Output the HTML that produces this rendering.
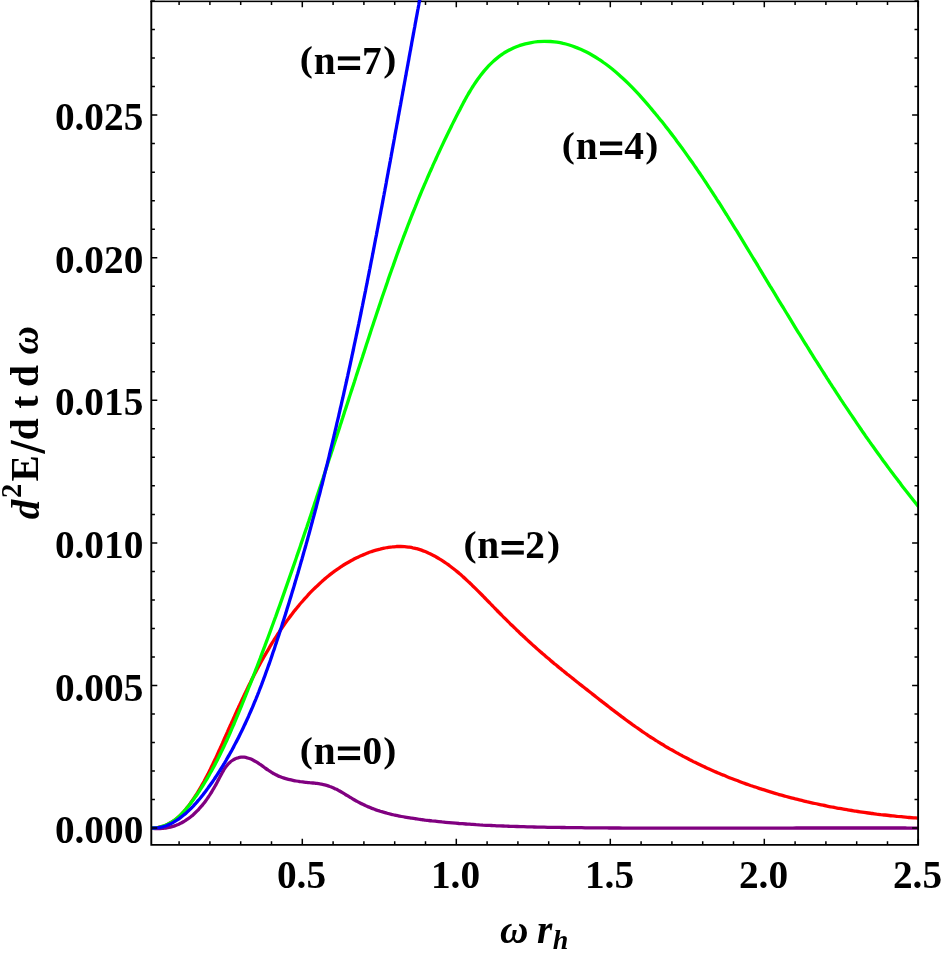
<!DOCTYPE html>
<html><head><meta charset="utf-8"><title>plot</title>
<style>
html,body{margin:0;padding:0;background:#fff;}
body{width:945px;height:953px;overflow:hidden;font-family:"Liberation Serif",serif;}
svg{display:block;position:absolute;left:0;top:0;will-change:transform;}
text{font-family:"Liberation Serif",serif;font-weight:bold;fill:#000;}
.i{font-style:italic;}
</style></head><body>
<svg width="945" height="953" viewBox="0 0 945 953">
<rect x="0" y="0" width="945" height="953" fill="#fff"/>
<defs><clipPath id="c"><rect x="151.30" y="0" width="766.40" height="844.85"/></clipPath><clipPath id="ctop"><rect x="400" y="0" width="40" height="2.6"/></clipPath></defs>
<g clip-path="url(#c)" fill="none" stroke-linejoin="round" stroke-linecap="butt" stroke-width="3.30">
<path d="M151.40 828.10C152.0 828.2 153.9 828.4 155.1 828.5C156.3 828.5 157.5 828.6 158.7 828.6C159.9 828.6 161.1 828.5 162.2 828.4C163.4 828.4 164.5 828.2 165.6 828.1C166.7 827.9 167.8 827.7 168.9 827.5C170.0 827.3 171.1 827.0 172.1 826.7C173.2 826.4 174.2 826.0 175.2 825.7C176.2 825.3 177.3 824.9 178.2 824.5C179.2 824.0 180.2 823.6 181.2 823.1C182.1 822.6 183.1 822.0 184.0 821.5C184.9 820.9 185.8 820.3 186.7 819.7C187.7 819.1 188.5 818.5 189.4 817.8C190.3 817.2 191.1 816.5 192.0 815.8C192.8 815.0 193.7 814.3 194.5 813.5C195.3 812.8 196.1 812.0 196.9 811.2C197.7 810.4 198.5 809.6 199.2 808.7C200.0 807.9 200.7 807.0 201.5 806.2C202.2 805.3 203.0 804.4 203.7 803.5C204.4 802.6 205.1 801.7 205.8 800.7C206.5 799.8 207.2 798.8 207.8 797.9C208.5 796.9 209.1 795.9 209.8 794.9C210.4 793.9 211.1 792.9 211.7 791.9C212.3 790.9 212.9 789.9 213.5 788.8C214.1 787.8 214.7 786.8 215.3 785.7C215.9 784.7 216.4 783.6 217.0 782.6C217.6 781.5 218.1 780.4 218.7 779.4C219.2 778.3 219.7 777.3 220.3 776.2C220.8 775.2 221.4 774.1 222.0 773.1C222.5 772.1 223.1 771.1 223.7 770.1C224.3 769.2 224.9 768.2 225.5 767.3C226.2 766.4 226.9 765.6 227.6 764.7C228.3 763.9 229.0 763.1 229.8 762.4C230.6 761.7 231.4 761.1 232.3 760.5C233.2 759.9 234.1 759.3 235.1 758.9C236.0 758.4 237.0 758.0 238.0 757.8C239.1 757.5 240.1 757.3 241.1 757.2C242.2 757.1 243.2 757.1 244.2 757.2C245.2 757.3 246.2 757.5 247.2 757.8C248.3 758.0 249.3 758.4 250.3 758.8C251.3 759.2 252.3 759.7 253.3 760.2C254.3 760.7 255.3 761.3 256.3 761.9C257.3 762.5 258.3 763.2 259.3 763.9C260.3 764.5 261.3 765.2 262.3 765.9C263.3 766.6 264.3 767.4 265.3 768.1C266.2 768.8 267.2 769.5 268.2 770.2C269.2 770.8 270.2 771.5 271.2 772.1C272.3 772.8 273.3 773.3 274.3 773.9C275.3 774.5 276.3 775.0 277.3 775.4C278.3 775.9 279.3 776.4 280.4 776.8C281.4 777.2 282.4 777.6 283.4 777.9C284.5 778.3 285.5 778.6 286.6 778.9C287.6 779.2 288.6 779.5 289.7 779.7C290.8 780.0 291.8 780.2 292.9 780.4C294.0 780.7 295.0 780.8 296.1 781.0C297.2 781.2 298.3 781.4 299.4 781.5C300.5 781.7 301.6 781.8 302.7 781.9C303.8 782.1 305.0 782.2 306.1 782.3C307.2 782.4 308.4 782.5 309.5 782.7C310.7 782.8 311.8 782.9 313.0 783.0C314.1 783.1 315.3 783.3 316.4 783.4C317.6 783.6 318.7 783.8 319.9 783.9C321.0 784.1 322.1 784.4 323.3 784.6C324.4 784.8 325.5 785.1 326.6 785.4C327.7 785.7 328.8 786.1 329.8 786.5C330.9 786.8 331.9 787.3 333.0 787.7C334.0 788.2 335.0 788.6 336.0 789.1C337.1 789.6 338.1 790.2 339.0 790.7C340.0 791.3 341.0 791.8 342.0 792.4C343.0 793.0 344.0 793.6 345.0 794.2C345.9 794.7 346.9 795.3 347.9 795.9C348.8 796.5 349.8 797.2 350.8 797.7C351.8 798.3 352.7 798.9 353.7 799.5C354.7 800.1 355.7 800.7 356.7 801.2C357.7 801.8 358.7 802.3 359.7 802.8C360.7 803.3 361.7 803.9 362.8 804.3C363.8 804.8 364.8 805.3 365.8 805.8C366.9 806.2 367.9 806.7 369.0 807.1C370.0 807.6 371.1 808.0 372.1 808.4C373.2 808.8 374.2 809.2 375.3 809.6C376.3 809.9 377.4 810.3 378.5 810.7C379.6 811.0 380.6 811.4 381.7 811.7C382.8 812.0 383.9 812.3 385.0 812.6C386.1 813.0 387.1 813.2 388.2 813.5C389.3 813.8 390.4 814.1 391.5 814.4C392.6 814.6 393.7 814.9 394.8 815.1C395.9 815.4 397.1 815.6 398.2 815.8C399.3 816.1 400.4 816.3 401.5 816.5C402.6 816.7 403.7 816.9 404.9 817.1C406.0 817.3 407.1 817.5 408.2 817.7C409.3 817.9 410.5 818.0 411.6 818.2C412.7 818.4 413.8 818.6 415.0 818.7C416.1 818.9 417.2 819.0 418.4 819.2C419.5 819.3 420.6 819.5 421.8 819.6C422.9 819.8 424.0 819.9 425.2 820.1C426.3 820.2 427.4 820.3 428.5 820.5C429.7 820.6 430.8 820.7 431.9 820.9C433.1 821.0 434.2 821.1 435.3 821.2C436.5 821.4 437.6 821.5 438.7 821.6C439.9 821.7 441.0 821.8 442.1 821.9C443.3 822.0 444.4 822.2 445.5 822.3C446.7 822.4 447.8 822.5 448.9 822.6C450.1 822.7 451.2 822.8 452.3 822.9C453.5 823.0 454.6 823.1 455.7 823.2C456.9 823.3 458.0 823.4 459.1 823.5C460.3 823.5 461.4 823.6 462.5 823.7C463.7 823.8 464.8 823.9 465.9 824.0C467.1 824.1 468.2 824.1 469.3 824.2C470.5 824.3 471.6 824.4 472.7 824.4C473.9 824.5 475.0 824.6 476.1 824.7C477.3 824.7 478.4 824.8 479.5 824.9C480.7 824.9 481.8 825.0 482.9 825.1C484.1 825.1 485.2 825.2 486.3 825.3C487.5 825.3 488.6 825.4 489.7 825.4C490.9 825.5 492.0 825.5 493.1 825.6C494.3 825.7 495.4 825.7 496.5 825.8C497.7 825.8 498.8 825.9 499.9 825.9C501.1 826.0 502.2 826.0 503.3 826.0C504.5 826.1 505.6 826.1 506.7 826.2C507.9 826.2 509.0 826.3 510.2 826.3C511.3 826.3 512.4 826.4 513.6 826.4C514.7 826.5 515.8 826.5 517.0 826.5C518.1 826.6 519.2 826.6 520.4 826.6C521.5 826.7 522.6 826.7 523.8 826.7C524.9 826.8 526.0 826.8 527.2 826.8C528.3 826.9 529.4 826.9 530.6 826.9C531.7 826.9 532.8 827.0 534.0 827.0C535.1 827.0 536.2 827.0 537.4 827.1C538.5 827.1 539.7 827.1 540.8 827.1C541.9 827.2 543.1 827.2 544.2 827.2C545.3 827.2 546.5 827.2 547.6 827.3C548.7 827.3 549.9 827.3 551.0 827.3C552.1 827.3 553.3 827.4 554.4 827.4C555.5 827.4 556.7 827.4 557.8 827.4C558.9 827.4 560.1 827.5 561.2 827.5C562.4 827.5 563.5 827.5 564.6 827.5C565.8 827.5 566.9 827.6 568.0 827.6C569.2 827.6 570.3 827.6 571.4 827.6C572.6 827.6 573.7 827.6 574.8 827.6C576.0 827.7 577.1 827.7 578.2 827.7C579.4 827.7 580.5 827.7 581.7 827.7C582.8 827.7 583.9 827.7 585.1 827.8C586.2 827.8 587.3 827.8 588.5 827.8C589.6 827.8 590.7 827.8 591.9 827.8C593.0 827.8 594.1 827.8 595.3 827.9C596.4 827.9 597.5 827.9 598.7 827.9C599.8 827.9 601.0 827.9 602.1 827.9C603.2 827.9 604.4 827.9 605.5 827.9C606.6 827.9 607.8 828.0 608.9 828.0C610.0 828.0 611.2 828.0 612.3 828.0C613.4 828.0 614.6 828.0 615.7 828.0C616.9 828.0 618.0 828.0 619.1 828.0C620.3 828.0 621.4 828.0 622.5 828.1C623.7 828.1 624.8 828.1 625.9 828.1C627.1 828.1 628.2 828.1 629.3 828.1C630.5 828.1 631.6 828.1 632.8 828.1C633.9 828.1 635.0 828.1 636.2 828.1C637.3 828.1 638.4 828.1 639.6 828.1C640.7 828.1 641.8 828.1 643.0 828.1C644.1 828.1 645.2 828.2 646.4 828.2C647.5 828.2 648.7 828.2 649.8 828.2C650.9 828.2 652.1 828.2 653.2 828.2C654.3 828.2 655.5 828.2 656.6 828.2C657.7 828.2 658.9 828.2 660.0 828.2C661.1 828.2 662.3 828.2 663.4 828.2C664.6 828.2 665.7 828.2 666.8 828.2C668.0 828.2 669.1 828.2 670.2 828.2C671.4 828.2 672.5 828.2 673.6 828.2C674.8 828.2 675.9 828.2 677.1 828.2C678.2 828.2 679.3 828.2 680.5 828.2C681.6 828.2 682.7 828.2 683.9 828.2C685.0 828.2 686.1 828.2 687.3 828.2C688.4 828.2 689.5 828.2 690.7 828.2C691.8 828.2 693.0 828.2 694.1 828.2C695.2 828.2 696.4 828.2 697.5 828.2C698.6 828.2 699.8 828.2 700.9 828.2C702.0 828.2 703.2 828.2 704.3 828.2C705.5 828.2 706.6 828.2 707.7 828.2C708.9 828.2 710.0 828.2 711.1 828.2C712.3 828.2 713.4 828.2 714.5 828.2C715.7 828.2 716.8 828.2 717.9 828.2C719.1 828.2 720.2 828.2 721.4 828.2C722.5 828.2 723.6 828.2 724.8 828.2C725.9 828.2 727.0 828.2 728.2 828.2C729.3 828.2 730.4 828.2 731.6 828.2C732.7 828.2 733.9 828.2 735.0 828.2C736.1 828.2 737.3 828.2 738.4 828.2C739.5 828.2 740.7 828.2 741.8 828.2C742.9 828.2 744.1 828.2 745.2 828.2C746.4 828.2 747.5 828.2 748.6 828.2C749.8 828.2 750.9 828.1 752.0 828.1C753.2 828.1 754.3 828.1 755.4 828.1C756.6 828.1 757.7 828.1 758.8 828.1C760.0 828.1 761.1 828.1 762.3 828.1C763.4 828.1 764.5 828.1 765.7 828.1C766.8 828.1 767.9 828.1 769.1 828.1C770.2 828.1 771.3 828.1 772.5 828.1C773.6 828.1 774.8 828.1 775.9 828.1C777.0 828.1 778.2 828.1 779.3 828.1C780.4 828.1 781.6 828.1 782.7 828.1C783.8 828.1 785.0 828.1 786.1 828.1C787.2 828.1 788.4 828.1 789.5 828.1C790.7 828.1 791.8 828.1 792.9 828.1C794.1 828.0 795.2 828.0 796.3 828.0C797.5 828.0 798.6 828.0 799.7 828.0C800.9 828.0 802.0 828.0 803.2 828.0C804.3 828.0 805.4 828.0 806.6 828.0C807.7 828.0 808.8 828.0 810.0 828.0C811.1 828.0 812.2 828.0 813.4 828.0C814.5 828.0 815.7 828.0 816.8 828.0C817.9 828.0 819.1 828.0 820.2 828.0C821.3 828.0 822.5 828.0 823.6 828.0C824.7 828.0 825.9 828.0 827.0 828.0C828.1 828.0 829.3 828.0 830.4 828.0C831.6 828.0 832.7 828.0 833.8 828.0C835.0 828.0 836.1 828.0 837.2 828.0C838.4 828.0 839.5 828.0 840.6 828.0C841.8 828.0 842.9 828.0 844.0 828.0C845.2 828.0 846.3 828.0 847.5 828.0C848.6 828.0 849.7 828.0 850.9 828.0C852.0 828.0 853.1 828.0 854.3 828.0C855.4 828.0 856.5 828.0 857.7 828.0C858.8 828.0 859.9 828.0 861.1 828.0C862.2 828.0 863.4 828.0 864.5 828.0C865.6 828.0 866.8 828.0 867.9 828.0C869.0 828.0 870.2 828.0 871.3 828.0C872.4 828.0 873.6 828.0 874.7 828.0C875.9 828.0 877.0 828.0 878.1 828.0C879.3 828.0 880.4 828.0 881.5 828.0C882.7 828.0 883.8 828.0 884.9 828.0C886.1 828.0 887.2 828.0 888.3 828.0C889.5 828.0 890.6 828.0 891.7 828.0C892.9 828.0 894.0 828.0 895.2 828.0C896.3 828.0 897.4 828.0 898.6 828.0C899.7 828.0 900.8 828.0 902.0 828.0C903.1 828.0 904.2 828.0 905.4 828.0C906.5 828.0 907.6 828.1 908.8 828.1C909.9 828.1 911.1 828.1 912.2 828.1C913.3 828.1 914.5 828.1 915.6 828.1C916.7 828.1 918.4 828.1 919.0 828.1" stroke="#800080"/>
<path d="M151.40 828.10C152.1 828.1 154.4 828.0 155.8 827.9C157.3 827.7 158.6 827.4 160.0 827.1C161.3 826.8 162.7 826.4 163.9 826.0C165.2 825.5 166.4 825.0 167.6 824.4C168.8 823.8 170.0 823.2 171.1 822.5C172.3 821.8 173.4 821.1 174.4 820.3C175.5 819.5 176.5 818.7 177.6 817.8C178.6 816.9 179.6 816.0 180.5 815.1C181.5 814.1 182.4 813.1 183.3 812.1C184.2 811.1 185.1 810.0 186.0 809.0C186.9 807.9 187.7 806.8 188.6 805.7C189.4 804.6 190.2 803.5 191.0 802.3C191.9 801.2 192.6 800.1 193.4 798.9C194.2 797.8 195.0 796.6 195.7 795.4C196.5 794.3 197.2 793.1 198.0 791.9C198.7 790.7 199.4 789.5 200.1 788.3C200.8 787.1 201.5 785.9 202.2 784.7C202.9 783.5 203.6 782.3 204.3 781.0C204.9 779.8 205.6 778.6 206.2 777.3C206.9 776.1 207.5 774.9 208.2 773.6C208.8 772.4 209.4 771.1 210.1 769.9C210.7 768.6 211.3 767.3 211.9 766.1C212.5 764.8 213.1 763.6 213.7 762.3C214.3 761.0 214.9 759.7 215.5 758.5C216.1 757.2 216.7 755.9 217.3 754.6C217.9 753.4 218.4 752.1 219.0 750.8C219.6 749.5 220.2 748.3 220.8 747.0C221.3 745.7 221.9 744.4 222.5 743.1C223.0 741.8 223.6 740.6 224.2 739.3C224.7 738.0 225.3 736.7 225.9 735.5C226.4 734.2 227.0 732.9 227.6 731.6C228.1 730.3 228.7 729.1 229.3 727.8C229.8 726.5 230.4 725.2 231.0 724.0C231.6 722.7 232.1 721.4 232.7 720.2C233.3 718.9 233.8 717.6 234.4 716.4C235.0 715.1 235.6 713.8 236.1 712.6C236.7 711.3 237.3 710.0 237.9 708.8C238.4 707.5 239.0 706.2 239.6 705.0C240.2 703.7 240.8 702.5 241.4 701.2C241.9 700.0 242.5 698.7 243.1 697.5C243.7 696.2 244.3 695.0 244.9 693.7C245.5 692.5 246.1 691.2 246.7 690.0C247.3 688.7 247.9 687.5 248.5 686.2C249.1 685.0 249.7 683.8 250.4 682.5C251.0 681.3 251.6 680.1 252.2 678.8C252.8 677.6 253.5 676.4 254.1 675.1C254.7 673.9 255.4 672.7 256.0 671.5C256.6 670.2 257.3 669.0 257.9 667.8C258.6 666.6 259.2 665.4 259.9 664.2C260.6 663.0 261.2 661.7 261.9 660.5C262.6 659.3 263.2 658.1 263.9 656.9C264.6 655.7 265.3 654.5 266.0 653.3C266.7 652.1 267.4 651.0 268.1 649.8C268.8 648.6 269.5 647.4 270.2 646.2C270.9 645.0 271.6 643.8 272.3 642.7C273.1 641.5 273.8 640.3 274.5 639.2C275.3 638.0 276.0 636.8 276.8 635.7C277.5 634.5 278.3 633.3 279.1 632.2C279.8 631.0 280.6 629.9 281.4 628.7C282.2 627.6 283.0 626.4 283.8 625.3C284.6 624.1 285.4 623.0 286.2 621.9C287.0 620.7 287.8 619.6 288.7 618.5C289.5 617.4 290.3 616.2 291.2 615.1C292.0 614.0 292.9 612.9 293.7 611.8C294.6 610.7 295.5 609.6 296.4 608.5C297.2 607.4 298.1 606.3 299.0 605.3C299.9 604.2 300.8 603.1 301.8 602.0C302.7 601.0 303.6 599.9 304.5 598.9C305.5 597.8 306.4 596.8 307.4 595.8C308.3 594.7 309.3 593.7 310.2 592.7C311.2 591.7 312.2 590.7 313.2 589.7C314.2 588.7 315.2 587.7 316.2 586.8C317.2 585.8 318.2 584.8 319.2 583.9C320.3 582.9 321.3 582.0 322.3 581.1C323.4 580.2 324.4 579.3 325.5 578.4C326.6 577.5 327.6 576.6 328.7 575.7C329.8 574.8 330.9 574.0 332.0 573.1C333.1 572.3 334.2 571.5 335.3 570.7C336.4 569.8 337.6 569.0 338.7 568.3C339.9 567.5 341.0 566.7 342.2 566.0C343.3 565.2 344.5 564.5 345.7 563.8C346.9 563.1 348.1 562.4 349.3 561.7C350.5 561.0 351.7 560.3 352.9 559.7C354.1 559.0 355.4 558.4 356.6 557.8C357.9 557.2 359.1 556.6 360.4 556.0C361.6 555.5 362.9 554.9 364.2 554.4C365.5 553.8 366.8 553.3 368.1 552.8C369.4 552.4 370.7 551.9 372.1 551.4C373.4 551.0 374.7 550.6 376.1 550.2C377.4 549.8 378.8 549.4 380.1 549.1C381.5 548.7 382.8 548.4 384.2 548.1C385.6 547.9 386.9 547.6 388.3 547.4C389.7 547.2 391.1 547.0 392.4 546.9C393.8 546.7 395.2 546.6 396.5 546.5C397.9 546.5 399.3 546.5 400.6 546.5C402.0 546.5 403.4 546.5 404.7 546.6C406.1 546.7 407.4 546.9 408.8 547.1C410.1 547.3 411.5 547.5 412.8 547.8C414.1 548.0 415.4 548.4 416.7 548.7C418.1 549.1 419.4 549.5 420.7 549.9C422.0 550.4 423.2 550.8 424.5 551.3C425.8 551.8 427.1 552.4 428.3 553.0C429.6 553.5 430.8 554.1 432.1 554.8C433.3 555.4 434.6 556.1 435.8 556.7C437.0 557.4 438.2 558.1 439.4 558.9C440.6 559.6 441.8 560.3 443.0 561.1C444.1 561.9 445.3 562.7 446.5 563.5C447.6 564.3 448.8 565.1 449.9 566.0C451.0 566.8 452.1 567.7 453.2 568.5C454.4 569.4 455.4 570.3 456.5 571.1C457.6 572.0 458.7 572.9 459.7 573.8C460.8 574.7 461.9 575.7 462.9 576.6C464.0 577.5 465.0 578.5 466.0 579.4C467.0 580.3 468.1 581.3 469.1 582.3C470.1 583.2 471.1 584.2 472.1 585.2C473.1 586.1 474.1 587.1 475.1 588.1C476.1 589.1 477.1 590.1 478.1 591.1C479.0 592.0 480.0 593.0 481.0 594.0C482.0 595.0 483.0 596.0 483.9 597.0C484.9 598.0 485.9 599.0 486.8 600.0C487.8 601.0 488.8 602.0 489.8 603.0C490.7 604.0 491.7 605.0 492.7 606.0C493.6 607.0 494.6 608.0 495.6 609.0C496.6 610.0 497.5 611.0 498.5 612.0C499.5 613.0 500.5 614.0 501.5 615.0C502.4 616.0 503.4 617.0 504.4 617.9C505.4 618.9 506.4 619.9 507.4 620.9C508.4 621.9 509.4 622.8 510.3 623.8C511.3 624.8 512.3 625.7 513.3 626.7C514.3 627.7 515.3 628.6 516.3 629.6C517.3 630.6 518.3 631.5 519.3 632.5C520.3 633.4 521.3 634.4 522.4 635.3C523.4 636.3 524.4 637.2 525.4 638.2C526.4 639.1 527.4 640.1 528.4 641.0C529.5 642.0 530.5 642.9 531.5 643.8C532.5 644.8 533.6 645.7 534.6 646.6C535.6 647.5 536.7 648.5 537.7 649.4C538.7 650.3 539.8 651.2 540.8 652.1C541.9 653.0 542.9 653.9 544.0 654.8C545.0 655.7 546.1 656.6 547.1 657.5C548.2 658.4 549.2 659.3 550.3 660.2C551.3 661.1 552.4 662.0 553.5 662.9C554.5 663.8 555.6 664.6 556.7 665.5C557.7 666.4 558.8 667.3 559.9 668.2C561.0 669.0 562.0 669.9 563.1 670.8C564.2 671.7 565.3 672.5 566.4 673.4C567.4 674.3 568.5 675.1 569.6 676.0C570.7 676.9 571.8 677.7 572.9 678.6C573.9 679.5 575.0 680.3 576.1 681.2C577.2 682.1 578.3 682.9 579.4 683.8C580.5 684.6 581.6 685.5 582.7 686.4C583.8 687.2 584.9 688.1 585.9 688.9C587.0 689.8 588.1 690.7 589.2 691.5C590.3 692.4 591.4 693.2 592.5 694.1C593.6 695.0 594.7 695.8 595.8 696.7C596.9 697.6 598.0 698.4 599.1 699.3C600.2 700.1 601.3 701.0 602.4 701.9C603.5 702.7 604.6 703.6 605.7 704.4C606.8 705.3 607.9 706.2 609.0 707.0C610.1 707.9 611.3 708.7 612.4 709.6C613.5 710.4 614.6 711.3 615.7 712.1C616.8 713.0 617.9 713.8 619.0 714.6C620.2 715.5 621.3 716.3 622.4 717.2C623.5 718.0 624.6 718.8 625.8 719.7C626.9 720.5 628.0 721.3 629.1 722.1C630.3 723.0 631.4 723.8 632.5 724.6C633.7 725.4 634.8 726.2 635.9 727.0C637.1 727.8 638.2 728.6 639.4 729.4C640.5 730.2 641.7 731.0 642.8 731.8C644.0 732.6 645.1 733.4 646.3 734.1C647.4 734.9 648.6 735.7 649.7 736.5C650.9 737.2 652.1 738.0 653.2 738.7C654.4 739.5 655.6 740.2 656.8 741.0C657.9 741.7 659.1 742.4 660.3 743.2C661.5 743.9 662.7 744.6 663.9 745.3C665.1 746.1 666.2 746.8 667.4 747.5C668.6 748.2 669.8 748.9 671.0 749.6C672.2 750.2 673.5 750.9 674.7 751.6C675.9 752.3 677.1 753.0 678.3 753.6C679.5 754.3 680.7 755.0 682.0 755.6C683.2 756.3 684.4 756.9 685.6 757.6C686.9 758.2 688.1 758.8 689.3 759.5C690.6 760.1 691.8 760.7 693.0 761.4C694.3 762.0 695.5 762.6 696.8 763.2C698.0 763.8 699.2 764.4 700.5 765.0C701.7 765.6 703.0 766.2 704.3 766.8C705.5 767.4 706.8 767.9 708.0 768.5C709.3 769.1 710.6 769.7 711.8 770.2C713.1 770.8 714.4 771.3 715.6 771.9C716.9 772.4 718.2 773.0 719.4 773.5C720.7 774.1 722.0 774.6 723.3 775.1C724.6 775.7 725.8 776.2 727.1 776.7C728.4 777.2 729.7 777.7 731.0 778.3C732.3 778.8 733.6 779.3 734.9 779.8C736.2 780.3 737.5 780.8 738.8 781.2C740.1 781.7 741.4 782.2 742.7 782.7C744.0 783.2 745.3 783.6 746.6 784.1C747.9 784.6 749.2 785.0 750.5 785.5C751.8 785.9 753.1 786.4 754.5 786.8C755.8 787.3 757.1 787.7 758.4 788.1C759.7 788.6 761.1 789.0 762.4 789.4C763.7 789.9 765.0 790.3 766.4 790.7C767.7 791.1 769.0 791.5 770.3 791.9C771.7 792.3 773.0 792.7 774.3 793.1C775.7 793.5 777.0 793.9 778.3 794.3C779.7 794.7 781.0 795.0 782.4 795.4C783.7 795.8 785.0 796.2 786.4 796.5C787.7 796.9 789.1 797.3 790.4 797.6C791.8 798.0 793.1 798.3 794.5 798.7C795.8 799.0 797.2 799.4 798.5 799.7C799.9 800.0 801.2 800.4 802.6 800.7C803.9 801.0 805.3 801.3 806.6 801.7C808.0 802.0 809.3 802.3 810.7 802.6C812.1 802.9 813.4 803.2 814.8 803.5C816.1 803.8 817.5 804.1 818.9 804.4C820.2 804.7 821.6 805.0 823.0 805.2C824.3 805.5 825.7 805.8 827.1 806.1C828.4 806.4 829.8 806.6 831.2 806.9C832.5 807.1 833.9 807.4 835.3 807.7C836.6 807.9 838.0 808.2 839.4 808.4C840.8 808.7 842.1 808.9 843.5 809.1C844.9 809.4 846.3 809.6 847.6 809.8C849.0 810.1 850.4 810.3 851.8 810.5C853.1 810.7 854.5 811.0 855.9 811.2C857.3 811.4 858.6 811.6 860.0 811.8C861.4 812.0 862.8 812.2 864.2 812.4C865.5 812.6 866.9 812.8 868.3 813.0C869.7 813.2 871.0 813.3 872.4 813.5C873.8 813.7 875.2 813.9 876.6 814.1C878.0 814.2 879.3 814.4 880.7 814.6C882.1 814.7 883.5 814.9 884.9 815.0C886.2 815.2 887.6 815.4 889.0 815.5C890.4 815.7 891.8 815.8 893.1 815.9C894.5 816.1 895.9 816.2 897.3 816.4C898.7 816.5 900.1 816.6 901.4 816.7C902.8 816.9 904.2 817.0 905.6 817.1C907.0 817.2 908.3 817.4 909.7 817.5C911.1 817.6 912.5 817.7 913.9 817.8C915.2 817.9 917.3 818.0 918.0 818.1" stroke="#ff0000"/>
<path d="M151.40 828.10C152.5 828.0 155.9 827.9 158.0 827.5C160.1 827.1 162.1 826.6 164.0 825.9C166.0 825.2 167.8 824.3 169.6 823.3C171.4 822.4 173.1 821.2 174.7 820.0C176.3 818.8 177.9 817.5 179.4 816.1C180.9 814.7 182.4 813.2 183.8 811.6C185.2 810.1 186.6 808.4 187.9 806.8C189.2 805.2 190.5 803.4 191.8 801.7C193.1 800.0 194.3 798.3 195.6 796.6C196.8 794.8 198.0 793.1 199.2 791.3C200.3 789.5 201.5 787.7 202.6 786.0C203.8 784.2 204.9 782.4 206.0 780.5C207.1 778.7 208.1 776.9 209.2 775.1C210.2 773.2 211.3 771.4 212.3 769.5C213.3 767.6 214.3 765.8 215.3 763.9C216.3 762.0 217.3 760.1 218.2 758.2C219.2 756.3 220.1 754.4 221.0 752.5C222.0 750.6 222.9 748.7 223.8 746.8C224.7 744.9 225.6 742.9 226.5 741.0C227.3 739.1 228.2 737.1 229.1 735.2C229.9 733.2 230.8 731.3 231.6 729.3C232.5 727.4 233.3 725.4 234.2 723.5C235.0 721.5 235.8 719.5 236.6 717.6C237.5 715.6 238.3 713.6 239.1 711.7C239.9 709.7 240.7 707.7 241.5 705.8C242.3 703.8 243.1 701.8 243.9 699.9C244.7 697.9 245.5 695.9 246.3 693.9C247.1 692.0 247.9 690.0 248.6 688.0C249.4 686.0 250.2 684.1 251.0 682.1C251.8 680.1 252.5 678.1 253.3 676.2C254.1 674.2 254.9 672.2 255.6 670.2C256.4 668.2 257.2 666.3 257.9 664.3C258.7 662.3 259.4 660.3 260.2 658.3C260.9 656.3 261.7 654.4 262.4 652.4C263.2 650.4 263.9 648.4 264.7 646.4C265.4 644.4 266.2 642.4 266.9 640.4C267.7 638.5 268.4 636.5 269.1 634.5C269.9 632.5 270.6 630.5 271.3 628.5C272.0 626.5 272.8 624.5 273.5 622.5C274.2 620.5 274.9 618.5 275.7 616.6C276.4 614.6 277.1 612.6 277.8 610.6C278.5 608.6 279.3 606.6 280.0 604.6C280.7 602.6 281.4 600.6 282.1 598.6C282.8 596.6 283.5 594.6 284.2 592.6C284.9 590.6 285.6 588.6 286.3 586.6C287.0 584.6 287.7 582.6 288.4 580.6C289.1 578.6 289.8 576.6 290.5 574.6C291.2 572.6 291.9 570.6 292.6 568.6C293.3 566.6 294.0 564.6 294.7 562.6C295.4 560.6 296.1 558.6 296.7 556.6C297.4 554.6 298.1 552.6 298.8 550.6C299.5 548.6 300.2 546.6 300.8 544.6C301.5 542.6 302.2 540.5 302.9 538.5C303.6 536.5 304.2 534.5 304.9 532.5C305.6 530.5 306.3 528.5 307.0 526.5C307.6 524.5 308.3 522.5 309.0 520.5C309.6 518.5 310.3 516.5 311.0 514.5C311.7 512.4 312.3 510.4 313.0 508.4C313.7 506.4 314.3 504.4 315.0 502.4C315.7 500.4 316.3 498.4 317.0 496.4C317.7 494.4 318.3 492.3 319.0 490.3C319.7 488.3 320.3 486.3 321.0 484.3C321.6 482.3 322.3 480.3 323.0 478.3C323.6 476.3 324.3 474.2 325.0 472.2C325.6 470.2 326.3 468.2 326.9 466.2C327.6 464.2 328.2 462.2 328.9 460.1C329.6 458.1 330.2 456.1 330.9 454.1C331.5 452.1 332.2 450.1 332.9 448.1C333.5 446.0 334.2 444.0 334.8 442.0C335.5 440.0 336.1 438.0 336.8 436.0C337.4 433.9 338.1 431.9 338.8 429.9C339.4 427.9 340.1 425.9 340.7 423.9C341.4 421.8 342.0 419.8 342.7 417.8C343.3 415.8 344.0 413.8 344.6 411.7C345.3 409.7 346.0 407.7 346.6 405.7C347.3 403.7 347.9 401.6 348.6 399.6C349.2 397.6 349.9 395.6 350.5 393.6C351.2 391.5 351.9 389.5 352.5 387.5C353.2 385.5 353.8 383.5 354.5 381.4C355.1 379.4 355.8 377.4 356.4 375.4C357.1 373.4 357.8 371.3 358.4 369.3C359.1 367.3 359.7 365.3 360.4 363.2C361.1 361.2 361.7 359.2 362.4 357.2C363.0 355.1 363.7 353.1 364.4 351.1C365.0 349.1 365.7 347.1 366.3 345.0C367.0 343.0 367.7 341.0 368.3 339.0C369.0 336.9 369.6 334.9 370.3 332.9C371.0 330.9 371.6 328.8 372.3 326.8C373.0 324.8 373.6 322.8 374.3 320.7C375.0 318.7 375.7 316.7 376.3 314.7C377.0 312.7 377.7 310.6 378.4 308.6C379.0 306.6 379.7 304.6 380.4 302.6C381.1 300.5 381.7 298.5 382.4 296.5C383.1 294.5 383.8 292.5 384.5 290.5C385.2 288.5 385.9 286.4 386.6 284.4C387.3 282.4 387.9 280.4 388.6 278.4C389.3 276.4 390.0 274.4 390.7 272.4C391.4 270.4 392.1 268.4 392.9 266.4C393.6 264.4 394.3 262.4 395.0 260.4C395.7 258.4 396.4 256.4 397.1 254.4C397.9 252.4 398.6 250.4 399.3 248.4C400.0 246.4 400.8 244.5 401.5 242.5C402.2 240.5 403.0 238.5 403.7 236.5C404.5 234.6 405.2 232.6 406.0 230.6C406.7 228.7 407.5 226.7 408.2 224.7C409.0 222.8 409.7 220.8 410.5 218.8C411.3 216.9 412.0 214.9 412.8 213.0C413.6 211.0 414.4 209.1 415.2 207.1C415.9 205.2 416.7 203.3 417.5 201.3C418.3 199.4 419.1 197.4 419.9 195.5C420.7 193.6 421.5 191.6 422.3 189.7C423.2 187.8 424.0 185.9 424.8 183.9C425.6 182.0 426.5 180.1 427.3 178.2C428.1 176.2 429.0 174.3 429.8 172.4C430.7 170.5 431.5 168.6 432.4 166.6C433.2 164.7 434.1 162.8 435.0 160.9C435.9 159.0 436.7 157.0 437.6 155.1C438.5 153.2 439.4 151.3 440.3 149.4C441.2 147.4 442.1 145.5 443.0 143.6C443.9 141.7 444.8 139.8 445.8 137.8C446.7 135.9 447.6 134.0 448.6 132.0C449.5 130.1 450.5 128.2 451.4 126.2C452.4 124.3 453.3 122.4 454.3 120.4C455.3 118.5 456.3 116.6 457.3 114.6C458.2 112.7 459.2 110.7 460.3 108.8C461.3 106.8 462.3 104.9 463.3 103.0C464.4 101.0 465.4 99.1 466.5 97.2C467.6 95.3 468.6 93.4 469.8 91.5C470.9 89.7 472.0 87.8 473.2 86.0C474.3 84.2 475.5 82.4 476.7 80.7C478.0 78.9 479.2 77.2 480.5 75.5C481.8 73.8 483.1 72.2 484.4 70.6C485.8 69.0 487.2 67.4 488.6 65.9C490.0 64.4 491.5 63.0 493.0 61.6C494.5 60.2 496.1 58.9 497.7 57.6C499.3 56.3 500.9 55.1 502.6 54.0C504.3 52.8 506.1 51.8 507.9 50.8C509.7 49.8 511.5 48.9 513.4 48.0C515.3 47.2 517.3 46.4 519.2 45.7C521.2 45.1 523.2 44.5 525.3 43.9C527.3 43.4 529.4 43.0 531.5 42.6C533.6 42.2 535.7 41.9 537.8 41.7C539.9 41.5 542.1 41.4 544.2 41.4C546.3 41.4 548.5 41.4 550.6 41.5C552.7 41.7 554.8 41.9 556.9 42.2C559.0 42.5 561.1 42.9 563.1 43.4C565.2 43.8 567.3 44.4 569.3 45.0C571.3 45.6 573.3 46.3 575.3 47.1C577.3 47.8 579.3 48.7 581.2 49.5C583.2 50.4 585.1 51.3 587.0 52.3C588.9 53.3 590.8 54.4 592.7 55.5C594.5 56.5 596.4 57.7 598.2 58.9C600.0 60.0 601.8 61.2 603.5 62.5C605.3 63.7 607.0 65.0 608.7 66.3C610.4 67.6 612.1 68.9 613.7 70.3C615.4 71.6 617.0 73.0 618.6 74.4C620.2 75.8 621.8 77.3 623.3 78.7C624.9 80.2 626.4 81.6 627.9 83.1C629.4 84.6 630.9 86.1 632.4 87.6C633.8 89.1 635.3 90.7 636.7 92.2C638.2 93.8 639.6 95.3 641.0 96.9C642.4 98.5 643.8 100.1 645.2 101.6C646.6 103.2 648.0 104.8 649.4 106.5C650.7 108.1 652.1 109.7 653.4 111.3C654.8 112.9 656.1 114.6 657.5 116.2C658.8 117.8 660.1 119.5 661.5 121.1C662.8 122.8 664.1 124.4 665.4 126.1C666.7 127.7 668.0 129.4 669.3 131.1C670.6 132.8 671.9 134.4 673.1 136.1C674.4 137.8 675.7 139.5 676.9 141.2C678.2 142.9 679.5 144.6 680.7 146.3C682.0 148.0 683.2 149.7 684.4 151.4C685.7 153.2 686.9 154.9 688.1 156.6C689.3 158.3 690.6 160.1 691.8 161.8C693.0 163.5 694.2 165.3 695.4 167.0C696.6 168.8 697.8 170.5 699.0 172.3C700.2 174.0 701.4 175.8 702.6 177.5C703.7 179.3 704.9 181.1 706.1 182.8C707.3 184.6 708.4 186.4 709.6 188.1C710.8 189.9 711.9 191.7 713.1 193.5C714.2 195.3 715.4 197.0 716.5 198.8C717.7 200.6 718.8 202.4 720.0 204.2C721.1 206.0 722.2 207.8 723.4 209.6C724.5 211.4 725.6 213.2 726.8 215.0C727.9 216.8 729.0 218.6 730.1 220.4C731.3 222.2 732.4 224.0 733.5 225.8C734.6 227.6 735.7 229.4 736.9 231.2C738.0 233.1 739.1 234.9 740.2 236.7C741.3 238.5 742.4 240.3 743.5 242.1C744.6 243.9 745.7 245.8 746.8 247.6C747.9 249.4 749.0 251.2 750.1 253.0C751.2 254.8 752.3 256.7 753.4 258.5C754.6 260.3 755.7 262.1 756.8 263.9C757.9 265.8 759.0 267.6 760.0 269.4C761.1 271.2 762.2 273.0 763.3 274.9C764.4 276.7 765.5 278.5 766.6 280.3C767.7 282.1 768.8 283.9 769.9 285.8C771.0 287.6 772.1 289.4 773.2 291.2C774.3 293.0 775.4 294.8 776.5 296.7C777.6 298.5 778.7 300.3 779.8 302.1C780.9 303.9 782.0 305.7 783.2 307.5C784.3 309.4 785.4 311.2 786.5 313.0C787.6 314.8 788.7 316.6 789.8 318.4C790.9 320.2 792.0 322.0 793.1 323.8C794.2 325.7 795.3 327.5 796.4 329.3C797.5 331.1 798.6 332.9 799.8 334.7C800.9 336.5 802.0 338.3 803.1 340.1C804.2 341.9 805.3 343.7 806.5 345.5C807.6 347.3 808.7 349.1 809.8 350.9C810.9 352.7 812.1 354.5 813.2 356.3C814.3 358.1 815.4 359.9 816.6 361.7C817.7 363.5 818.8 365.3 820.0 367.0C821.1 368.8 822.2 370.6 823.4 372.4C824.5 374.2 825.7 376.0 826.8 377.8C827.9 379.5 829.1 381.3 830.2 383.1C831.4 384.9 832.5 386.7 833.7 388.4C834.8 390.2 836.0 392.0 837.2 393.8C838.3 395.5 839.5 397.3 840.6 399.1C841.8 400.8 843.0 402.6 844.1 404.4C845.3 406.1 846.5 407.9 847.7 409.7C848.8 411.4 850.0 413.2 851.2 414.9C852.4 416.7 853.6 418.4 854.8 420.2C855.9 421.9 857.1 423.7 858.3 425.4C859.5 427.2 860.7 428.9 861.9 430.7C863.1 432.4 864.3 434.2 865.5 435.9C866.8 437.6 868.0 439.4 869.2 441.1C870.4 442.8 871.6 444.6 872.9 446.3C874.1 448.0 875.3 449.7 876.6 451.5C877.8 453.2 879.0 454.9 880.3 456.6C881.5 458.3 882.8 460.0 884.0 461.8C885.3 463.5 886.5 465.2 887.8 466.9C889.0 468.6 890.3 470.3 891.6 472.0C892.9 473.7 894.1 475.4 895.4 477.1C896.7 478.8 898.0 480.5 899.3 482.1C900.6 483.8 901.8 485.5 903.1 487.2C904.4 488.9 905.8 490.6 907.1 492.2C908.4 493.9 909.7 495.6 911.0 497.2C912.3 498.9 913.7 500.6 915.0 502.2C916.3 503.9 918.3 506.4 919.0 507.2" stroke="#00ff00"/>
<path d="M151.40 828.10C152.0 828.1 154.0 828.1 155.3 828.0C156.6 828.0 157.8 827.8 159.0 827.6C160.3 827.4 161.5 827.1 162.7 826.8C163.9 826.5 165.0 826.1 166.2 825.7C167.3 825.3 168.5 824.8 169.6 824.3C170.7 823.8 171.8 823.2 172.9 822.6C174.0 822.0 175.0 821.4 176.1 820.7C177.1 820.0 178.2 819.3 179.2 818.6C180.2 817.9 181.2 817.1 182.2 816.3C183.1 815.6 184.1 814.7 185.1 813.9C186.0 813.1 187.0 812.3 187.9 811.4C188.8 810.5 189.7 809.7 190.6 808.8C191.5 807.9 192.4 807.0 193.3 806.1C194.1 805.2 195.0 804.2 195.8 803.3C196.7 802.4 197.5 801.4 198.3 800.4C199.2 799.5 200.0 798.5 200.8 797.5C201.6 796.5 202.4 795.5 203.2 794.5C203.9 793.5 204.7 792.5 205.5 791.5C206.2 790.5 207.0 789.5 207.8 788.4C208.5 787.4 209.2 786.4 210.0 785.3C210.7 784.3 211.4 783.3 212.2 782.2C212.9 781.2 213.6 780.1 214.3 779.1C215.0 778.0 215.7 777.0 216.4 775.9C217.1 774.8 217.8 773.8 218.5 772.7C219.2 771.7 219.8 770.6 220.5 769.5C221.2 768.5 221.8 767.4 222.5 766.3C223.2 765.2 223.8 764.1 224.5 763.1C225.1 762.0 225.7 760.9 226.4 759.8C227.0 758.7 227.6 757.6 228.3 756.5C228.9 755.4 229.5 754.4 230.1 753.3C230.7 752.2 231.4 751.1 232.0 750.0C232.6 748.9 233.2 747.7 233.8 746.6C234.3 745.5 234.9 744.4 235.5 743.3C236.1 742.2 236.7 741.1 237.2 740.0C237.8 738.8 238.4 737.7 239.0 736.6C239.5 735.5 240.1 734.4 240.6 733.2C241.2 732.1 241.7 731.0 242.3 729.8C242.8 728.7 243.4 727.6 243.9 726.4C244.4 725.3 245.0 724.2 245.5 723.0C246.0 721.9 246.5 720.8 247.1 719.6C247.6 718.5 248.1 717.3 248.6 716.2C249.1 715.0 249.6 713.9 250.1 712.7C250.6 711.6 251.1 710.4 251.6 709.3C252.1 708.1 252.6 707.0 253.1 705.8C253.6 704.7 254.1 703.5 254.5 702.3C255.0 701.2 255.5 700.0 256.0 698.8C256.4 697.7 256.9 696.5 257.4 695.3C257.8 694.2 258.3 693.0 258.8 691.8C259.2 690.7 259.7 689.5 260.1 688.3C260.6 687.2 261.0 686.0 261.5 684.8C261.9 683.6 262.4 682.5 262.8 681.3C263.3 680.1 263.7 678.9 264.1 677.7C264.6 676.6 265.0 675.4 265.4 674.2C265.9 673.0 266.3 671.8 266.7 670.6C267.2 669.5 267.6 668.3 268.0 667.1C268.4 665.9 268.8 664.7 269.3 663.5C269.7 662.3 270.1 661.1 270.5 660.0C270.9 658.8 271.3 657.6 271.7 656.4C272.1 655.2 272.5 654.0 272.9 652.8C273.3 651.6 273.8 650.4 274.2 649.2C274.6 648.0 275.0 646.8 275.3 645.6C275.7 644.4 276.1 643.2 276.5 642.1C276.9 640.9 277.3 639.7 277.7 638.5C278.1 637.3 278.5 636.1 278.9 634.9C279.3 633.7 279.7 632.5 280.0 631.3C280.4 630.1 280.8 628.9 281.2 627.7C281.6 626.5 282.0 625.3 282.3 624.1C282.7 622.9 283.1 621.7 283.5 620.5C283.9 619.3 284.3 618.1 284.6 616.9C285.0 615.7 285.4 614.5 285.8 613.3C286.1 612.1 286.5 610.9 286.9 609.6C287.3 608.4 287.6 607.2 288.0 606.0C288.4 604.8 288.7 603.6 289.1 602.4C289.5 601.2 289.8 600.0 290.2 598.8C290.6 597.6 290.9 596.4 291.3 595.2C291.7 594.0 292.0 592.8 292.4 591.6C292.8 590.4 293.1 589.2 293.5 588.0C293.9 586.8 294.2 585.6 294.6 584.3C294.9 583.1 295.3 581.9 295.6 580.7C296.0 579.5 296.4 578.3 296.7 577.1C297.1 575.9 297.4 574.7 297.8 573.5C298.1 572.3 298.5 571.1 298.8 569.9C299.2 568.6 299.5 567.4 299.9 566.2C300.2 565.0 300.6 563.8 300.9 562.6C301.3 561.4 301.6 560.2 302.0 559.0C302.3 557.8 302.7 556.5 303.0 555.3C303.3 554.1 303.7 552.9 304.0 551.7C304.4 550.5 304.7 549.3 305.1 548.1C305.4 546.9 305.7 545.6 306.1 544.4C306.4 543.2 306.8 542.0 307.1 540.8C307.4 539.6 307.8 538.4 308.1 537.2C308.4 535.9 308.8 534.7 309.1 533.5C309.4 532.3 309.8 531.1 310.1 529.9C310.4 528.7 310.8 527.4 311.1 526.2C311.4 525.0 311.7 523.8 312.1 522.6C312.4 521.4 312.7 520.2 313.0 518.9C313.4 517.7 313.7 516.5 314.0 515.3C314.3 514.1 314.7 512.9 315.0 511.6C315.3 510.4 315.6 509.2 316.0 508.0C316.3 506.8 316.6 505.6 316.9 504.3C317.2 503.1 317.6 501.9 317.9 500.7C318.2 499.5 318.5 498.3 318.8 497.0C319.1 495.8 319.4 494.6 319.8 493.4C320.1 492.2 320.4 490.9 320.7 489.7C321.0 488.5 321.3 487.3 321.6 486.1C322.0 484.9 322.3 483.6 322.6 482.4C322.9 481.2 323.2 480.0 323.5 478.8C323.8 477.5 324.1 476.3 324.4 475.1C324.7 473.9 325.0 472.7 325.3 471.4C325.6 470.2 325.9 469.0 326.2 467.8C326.5 466.5 326.9 465.3 327.2 464.1C327.5 462.9 327.8 461.7 328.1 460.4C328.4 459.2 328.7 458.0 329.0 456.8C329.3 455.5 329.5 454.3 329.8 453.1C330.1 451.9 330.4 450.7 330.7 449.4C331.0 448.2 331.3 447.0 331.6 445.8C331.9 444.5 332.2 443.3 332.5 442.1C332.8 440.9 333.1 439.6 333.4 438.4C333.7 437.2 334.0 436.0 334.3 434.7C334.5 433.5 334.8 432.3 335.1 431.1C335.4 429.8 335.7 428.6 336.0 427.4C336.3 426.2 336.6 424.9 336.8 423.7C337.1 422.5 337.4 421.3 337.7 420.0C338.0 418.8 338.3 417.6 338.6 416.4C338.8 415.1 339.1 413.9 339.4 412.7C339.7 411.5 340.0 410.2 340.2 409.0C340.5 407.8 340.8 406.5 341.1 405.3C341.4 404.1 341.6 402.9 341.9 401.6C342.2 400.4 342.5 399.2 342.8 397.9C343.0 396.7 343.3 395.5 343.6 394.3C343.9 393.0 344.1 391.8 344.4 390.6C344.7 389.4 345.0 388.1 345.2 386.9C345.5 385.7 345.8 384.4 346.1 383.2C346.3 382.0 346.6 380.7 346.9 379.5C347.1 378.3 347.4 377.1 347.7 375.8C347.9 374.6 348.2 373.4 348.5 372.1C348.8 370.9 349.0 369.7 349.3 368.4C349.6 367.2 349.8 366.0 350.1 364.8C350.4 363.5 350.6 362.3 350.9 361.1C351.2 359.8 351.4 358.6 351.7 357.4C351.9 356.1 352.2 354.9 352.5 353.7C352.7 352.4 353.0 351.2 353.3 350.0C353.5 348.8 353.8 347.5 354.0 346.3C354.3 345.1 354.6 343.8 354.8 342.6C355.1 341.4 355.3 340.1 355.6 338.9C355.9 337.7 356.1 336.4 356.4 335.2C356.6 334.0 356.9 332.7 357.2 331.5C357.4 330.3 357.7 329.0 357.9 327.8C358.2 326.6 358.4 325.3 358.7 324.1C358.9 322.9 359.2 321.6 359.5 320.4C359.7 319.2 360.0 317.9 360.2 316.7C360.5 315.5 360.7 314.2 361.0 313.0C361.2 311.8 361.5 310.5 361.7 309.3C362.0 308.1 362.2 306.8 362.5 305.6C362.7 304.4 363.0 303.1 363.2 301.9C363.5 300.7 363.7 299.4 364.0 298.2C364.2 296.9 364.5 295.7 364.7 294.5C365.0 293.2 365.2 292.0 365.5 290.8C365.7 289.5 366.0 288.3 366.2 287.1C366.5 285.8 366.7 284.6 367.0 283.4C367.2 282.1 367.4 280.9 367.7 279.7C367.9 278.4 368.2 277.2 368.4 275.9C368.7 274.7 368.9 273.5 369.2 272.2C369.4 271.0 369.6 269.8 369.9 268.5C370.1 267.3 370.4 266.1 370.6 264.8C370.9 263.6 371.1 262.3 371.3 261.1C371.6 259.9 371.8 258.6 372.1 257.4C372.3 256.2 372.5 254.9 372.8 253.7C373.0 252.5 373.3 251.2 373.5 250.0C373.7 248.7 374.0 247.5 374.2 246.3C374.5 245.0 374.7 243.8 374.9 242.6C375.2 241.3 375.4 240.1 375.6 238.8C375.9 237.6 376.1 236.4 376.4 235.1C376.6 233.9 376.8 232.7 377.1 231.4C377.3 230.2 377.5 228.9 377.8 227.7C378.0 226.5 378.2 225.2 378.5 224.0C378.7 222.8 379.0 221.5 379.2 220.3C379.4 219.0 379.7 217.8 379.9 216.6C380.1 215.3 380.4 214.1 380.6 212.9C380.8 211.6 381.1 210.4 381.3 209.1C381.5 207.9 381.8 206.7 382.0 205.4C382.2 204.2 382.5 203.0 382.7 201.7C382.9 200.5 383.2 199.2 383.4 198.0C383.6 196.8 383.8 195.5 384.1 194.3C384.3 193.0 384.5 191.8 384.8 190.6C385.0 189.3 385.2 188.1 385.5 186.9C385.7 185.6 385.9 184.4 386.2 183.1C386.4 181.9 386.6 180.7 386.8 179.4C387.1 178.2 387.3 176.9 387.5 175.7C387.8 174.5 388.0 173.2 388.2 172.0C388.4 170.8 388.7 169.5 388.9 168.3C389.1 167.0 389.4 165.8 389.6 164.6C389.8 163.3 390.0 162.1 390.3 160.8C390.5 159.6 390.7 158.4 391.0 157.1C391.2 155.9 391.4 154.6 391.6 153.4C391.9 152.2 392.1 150.9 392.3 149.7C392.5 148.5 392.8 147.2 393.0 146.0C393.2 144.7 393.5 143.5 393.7 142.3C393.9 141.0 394.1 139.8 394.4 138.5C394.6 137.3 394.8 136.1 395.0 134.8C395.3 133.6 395.5 132.3 395.7 131.1C395.9 129.9 396.2 128.6 396.4 127.4C396.6 126.2 396.8 124.9 397.1 123.7C397.3 122.4 397.5 121.2 397.8 120.0C398.0 118.7 398.2 117.5 398.4 116.2C398.7 115.0 398.9 113.8 399.1 112.5C399.3 111.3 399.6 110.0 399.8 108.8C400.0 107.6 400.2 106.3 400.5 105.1C400.7 103.9 400.9 102.6 401.1 101.4C401.4 100.1 401.6 98.9 401.8 97.7C402.0 96.4 402.3 95.2 402.5 93.9C402.7 92.7 402.9 91.5 403.2 90.2C403.4 89.0 403.6 87.7 403.8 86.5C404.1 85.3 404.3 84.0 404.5 82.8C404.7 81.6 405.0 80.3 405.2 79.1C405.4 77.8 405.6 76.6 405.9 75.4C406.1 74.1 406.3 72.9 406.5 71.6C406.8 70.4 407.0 69.2 407.2 67.9C407.4 66.7 407.7 65.5 407.9 64.2C408.1 63.0 408.3 61.7 408.6 60.5C408.8 59.3 409.0 58.0 409.2 56.8C409.5 55.6 409.7 54.3 409.9 53.1C410.1 51.8 410.4 50.6 410.6 49.4C410.8 48.1 411.0 46.9 411.3 45.7C411.5 44.4 411.7 43.2 411.9 41.9C412.2 40.7 412.4 39.5 412.6 38.2C412.8 37.0 413.1 35.8 413.3 34.5C413.5 33.3 413.8 32.0 414.0 30.8C414.2 29.6 414.4 28.3 414.7 27.1C414.9 25.9 415.1 24.6 415.3 23.4C415.6 22.1 415.8 20.9 416.0 19.7C416.2 18.4 416.5 17.2 416.7 16.0C416.9 14.7 417.2 13.5 417.4 12.2C417.6 11.0 417.8 9.8 418.1 8.5C418.3 7.3 418.5 6.1 418.8 4.8C419.0 3.6 419.2 2.4 419.4 1.1C419.7 -0.1 419.9 -1.3 420.1 -2.6C420.4 -3.8 420.6 -5.1 420.8 -6.3C421.0 -7.5 421.4 -9.4 421.5 -10.0" stroke="#0000ff"/>
</g>
<path d="M179.10 844.85 v-3.60M179.10 1.35 v3.60M209.90 844.85 v-3.60M209.90 1.35 v3.60M240.70 844.85 v-3.60M240.70 1.35 v3.60M271.50 844.85 v-3.60M271.50 1.35 v3.60M302.30 844.85 v-6.00M302.30 1.35 v6.00M333.10 844.85 v-3.60M333.10 1.35 v3.60M363.90 844.85 v-3.60M363.90 1.35 v3.60M394.70 844.85 v-3.60M394.70 1.35 v3.60M425.50 844.85 v-3.60M425.50 1.35 v3.60M456.30 844.85 v-6.00M456.30 1.35 v6.00M487.10 844.85 v-3.60M487.10 1.35 v3.60M517.90 844.85 v-3.60M517.90 1.35 v3.60M548.70 844.85 v-3.60M548.70 1.35 v3.60M579.50 844.85 v-3.60M579.50 1.35 v3.60M610.30 844.85 v-6.00M610.30 1.35 v6.00M641.10 844.85 v-3.60M641.10 1.35 v3.60M671.90 844.85 v-3.60M671.90 1.35 v3.60M702.70 844.85 v-3.60M702.70 1.35 v3.60M733.50 844.85 v-3.60M733.50 1.35 v3.60M764.30 844.85 v-6.00M764.30 1.35 v6.00M795.10 844.85 v-3.60M795.10 1.35 v3.60M825.90 844.85 v-3.60M825.90 1.35 v3.60M856.70 844.85 v-3.60M856.70 1.35 v3.60M887.50 844.85 v-3.60M887.50 1.35 v3.60M918.30 844.85 v-6.00M918.30 1.35 v6.00M151.30 828.10 h6.00M918.10 828.10 h-6.00M151.30 799.58 h3.60M918.10 799.58 h-3.60M151.30 771.06 h3.60M918.10 771.06 h-3.60M151.30 742.54 h3.60M918.10 742.54 h-3.60M151.30 714.02 h3.60M918.10 714.02 h-3.60M151.30 685.50 h6.00M918.10 685.50 h-6.00M151.30 656.98 h3.60M918.10 656.98 h-3.60M151.30 628.46 h3.60M918.10 628.46 h-3.60M151.30 599.94 h3.60M918.10 599.94 h-3.60M151.30 571.42 h3.60M918.10 571.42 h-3.60M151.30 542.90 h6.00M918.10 542.90 h-6.00M151.30 514.38 h3.60M918.10 514.38 h-3.60M151.30 485.86 h3.60M918.10 485.86 h-3.60M151.30 457.34 h3.60M918.10 457.34 h-3.60M151.30 428.82 h3.60M918.10 428.82 h-3.60M151.30 400.30 h6.00M918.10 400.30 h-6.00M151.30 371.78 h3.60M918.10 371.78 h-3.60M151.30 343.26 h3.60M918.10 343.26 h-3.60M151.30 314.74 h3.60M918.10 314.74 h-3.60M151.30 286.22 h3.60M918.10 286.22 h-3.60M151.30 257.70 h6.00M918.10 257.70 h-6.00M151.30 229.18 h3.60M918.10 229.18 h-3.60M151.30 200.66 h3.60M918.10 200.66 h-3.60M151.30 172.14 h3.60M918.10 172.14 h-3.60M151.30 143.62 h3.60M918.10 143.62 h-3.60M151.30 115.10 h6.00M918.10 115.10 h-6.00M151.30 86.58 h3.60M918.10 86.58 h-3.60M151.30 58.06 h3.60M918.10 58.06 h-3.60M151.30 29.54 h3.60M918.10 29.54 h-3.60M151.30 1.02 h3.60M918.10 1.02 h-3.60" stroke="#000" stroke-width="1.50" fill="none"/>
<path d="M151.30 0.60 V844.85 H918.10 V0.60" stroke="#000" stroke-width="1.90" fill="none" stroke-linejoin="miter"/>
<rect x="150.35" y="0.60" width="768.70" height="1.55" fill="#000"/>
<g clip-path="url(#ctop)" fill="none" stroke-width="3.30"><path d="M409.05 60 L419.7 0 L421.5 -10" stroke="#0000ff"/></g>
<text x="143.30" y="843.10" font-size="39.30" text-anchor="end">0.000</text>
<text x="143.30" y="700.50" font-size="39.30" text-anchor="end">0.005</text>
<text x="143.30" y="557.90" font-size="39.30" text-anchor="end">0.010</text>
<text x="143.30" y="415.30" font-size="39.30" text-anchor="end">0.015</text>
<text x="143.30" y="272.70" font-size="39.30" text-anchor="end">0.020</text>
<text x="143.30" y="130.10" font-size="39.30" text-anchor="end">0.025</text>
<text x="301.50" y="887.70" font-size="39.30" text-anchor="middle">0.5</text>
<text x="455.50" y="887.70" font-size="39.30" text-anchor="middle">1.0</text>
<text x="609.50" y="887.70" font-size="39.30" text-anchor="middle">1.5</text>
<text x="763.50" y="887.70" font-size="39.30" text-anchor="middle">2.0</text>
<text x="917.50" y="887.70" font-size="39.30" text-anchor="middle">2.5</text>
<g><text transform="translate(299.72,71.40) scale(1,0.911)" font-size="39.30">(</text><text x="313.65" y="73.50" font-size="39.30">n</text><rect x="337.90" y="56.40" width="22.20" height="4.05"/><rect x="337.90" y="65.90" width="22.20" height="4.10"/><text x="362.03" y="73.50" font-size="39.30">7</text><text transform="translate(383.20,71.40) scale(1,0.911)" font-size="39.30">)</text></g>
<g><text transform="translate(561.82,156.50) scale(1,0.911)" font-size="39.30">(</text><text x="575.75" y="158.60" font-size="39.30">n</text><rect x="600.00" y="141.50" width="22.20" height="4.05"/><rect x="600.00" y="151.00" width="22.20" height="4.10"/><text x="624.27" y="158.60" font-size="39.30">4</text><text transform="translate(645.30,156.50) scale(1,0.911)" font-size="39.30">)</text></g>
<g><text transform="translate(463.42,556.00) scale(1,0.911)" font-size="39.30">(</text><text x="477.35" y="558.10" font-size="39.30">n</text><rect x="501.60" y="541.00" width="22.20" height="4.05"/><rect x="501.60" y="550.50" width="22.20" height="4.10"/><text x="525.27" y="558.10" font-size="39.30">2</text><text transform="translate(546.90,556.00) scale(1,0.911)" font-size="39.30">)</text></g>
<g><text transform="translate(299.72,761.50) scale(1,0.911)" font-size="39.30">(</text><text x="313.65" y="763.60" font-size="39.30">n</text><rect x="337.90" y="746.50" width="22.20" height="4.05"/><rect x="337.90" y="756.00" width="22.20" height="4.10"/><text x="362.62" y="763.60" font-size="39.30">0</text><text transform="translate(383.20,761.50) scale(1,0.911)" font-size="39.30">)</text></g>
<text x="499.9" y="942.5" font-size="39.3" class="i">ω</text><text x="537.0" y="942.5" font-size="39.3" class="i">r</text><text x="552.85" y="948.6" font-size="28" class="i">h</text>
<polygon points="10.9,440.1 44.95,450.4 44.95,453.9 10.9,443.4" fill="#000"/><g transform="translate(38.0,519.7) rotate(-90)"><text x="0.45" y="0.6" font-size="39.3" class="i">d</text><text x="21.7" y="-17.3" font-size="28.5">2</text><text x="38.2" y="0" font-size="39.3">E</text><text x="79.4" y="0" font-size="39.3">d</text><text x="111.0" y="0" font-size="39.3">t</text><text x="132.75" y="0" font-size="39.3">d</text><text x="165.2" y="0" font-size="39.3" class="i">ω</text></g>
</svg>
</body></html>
